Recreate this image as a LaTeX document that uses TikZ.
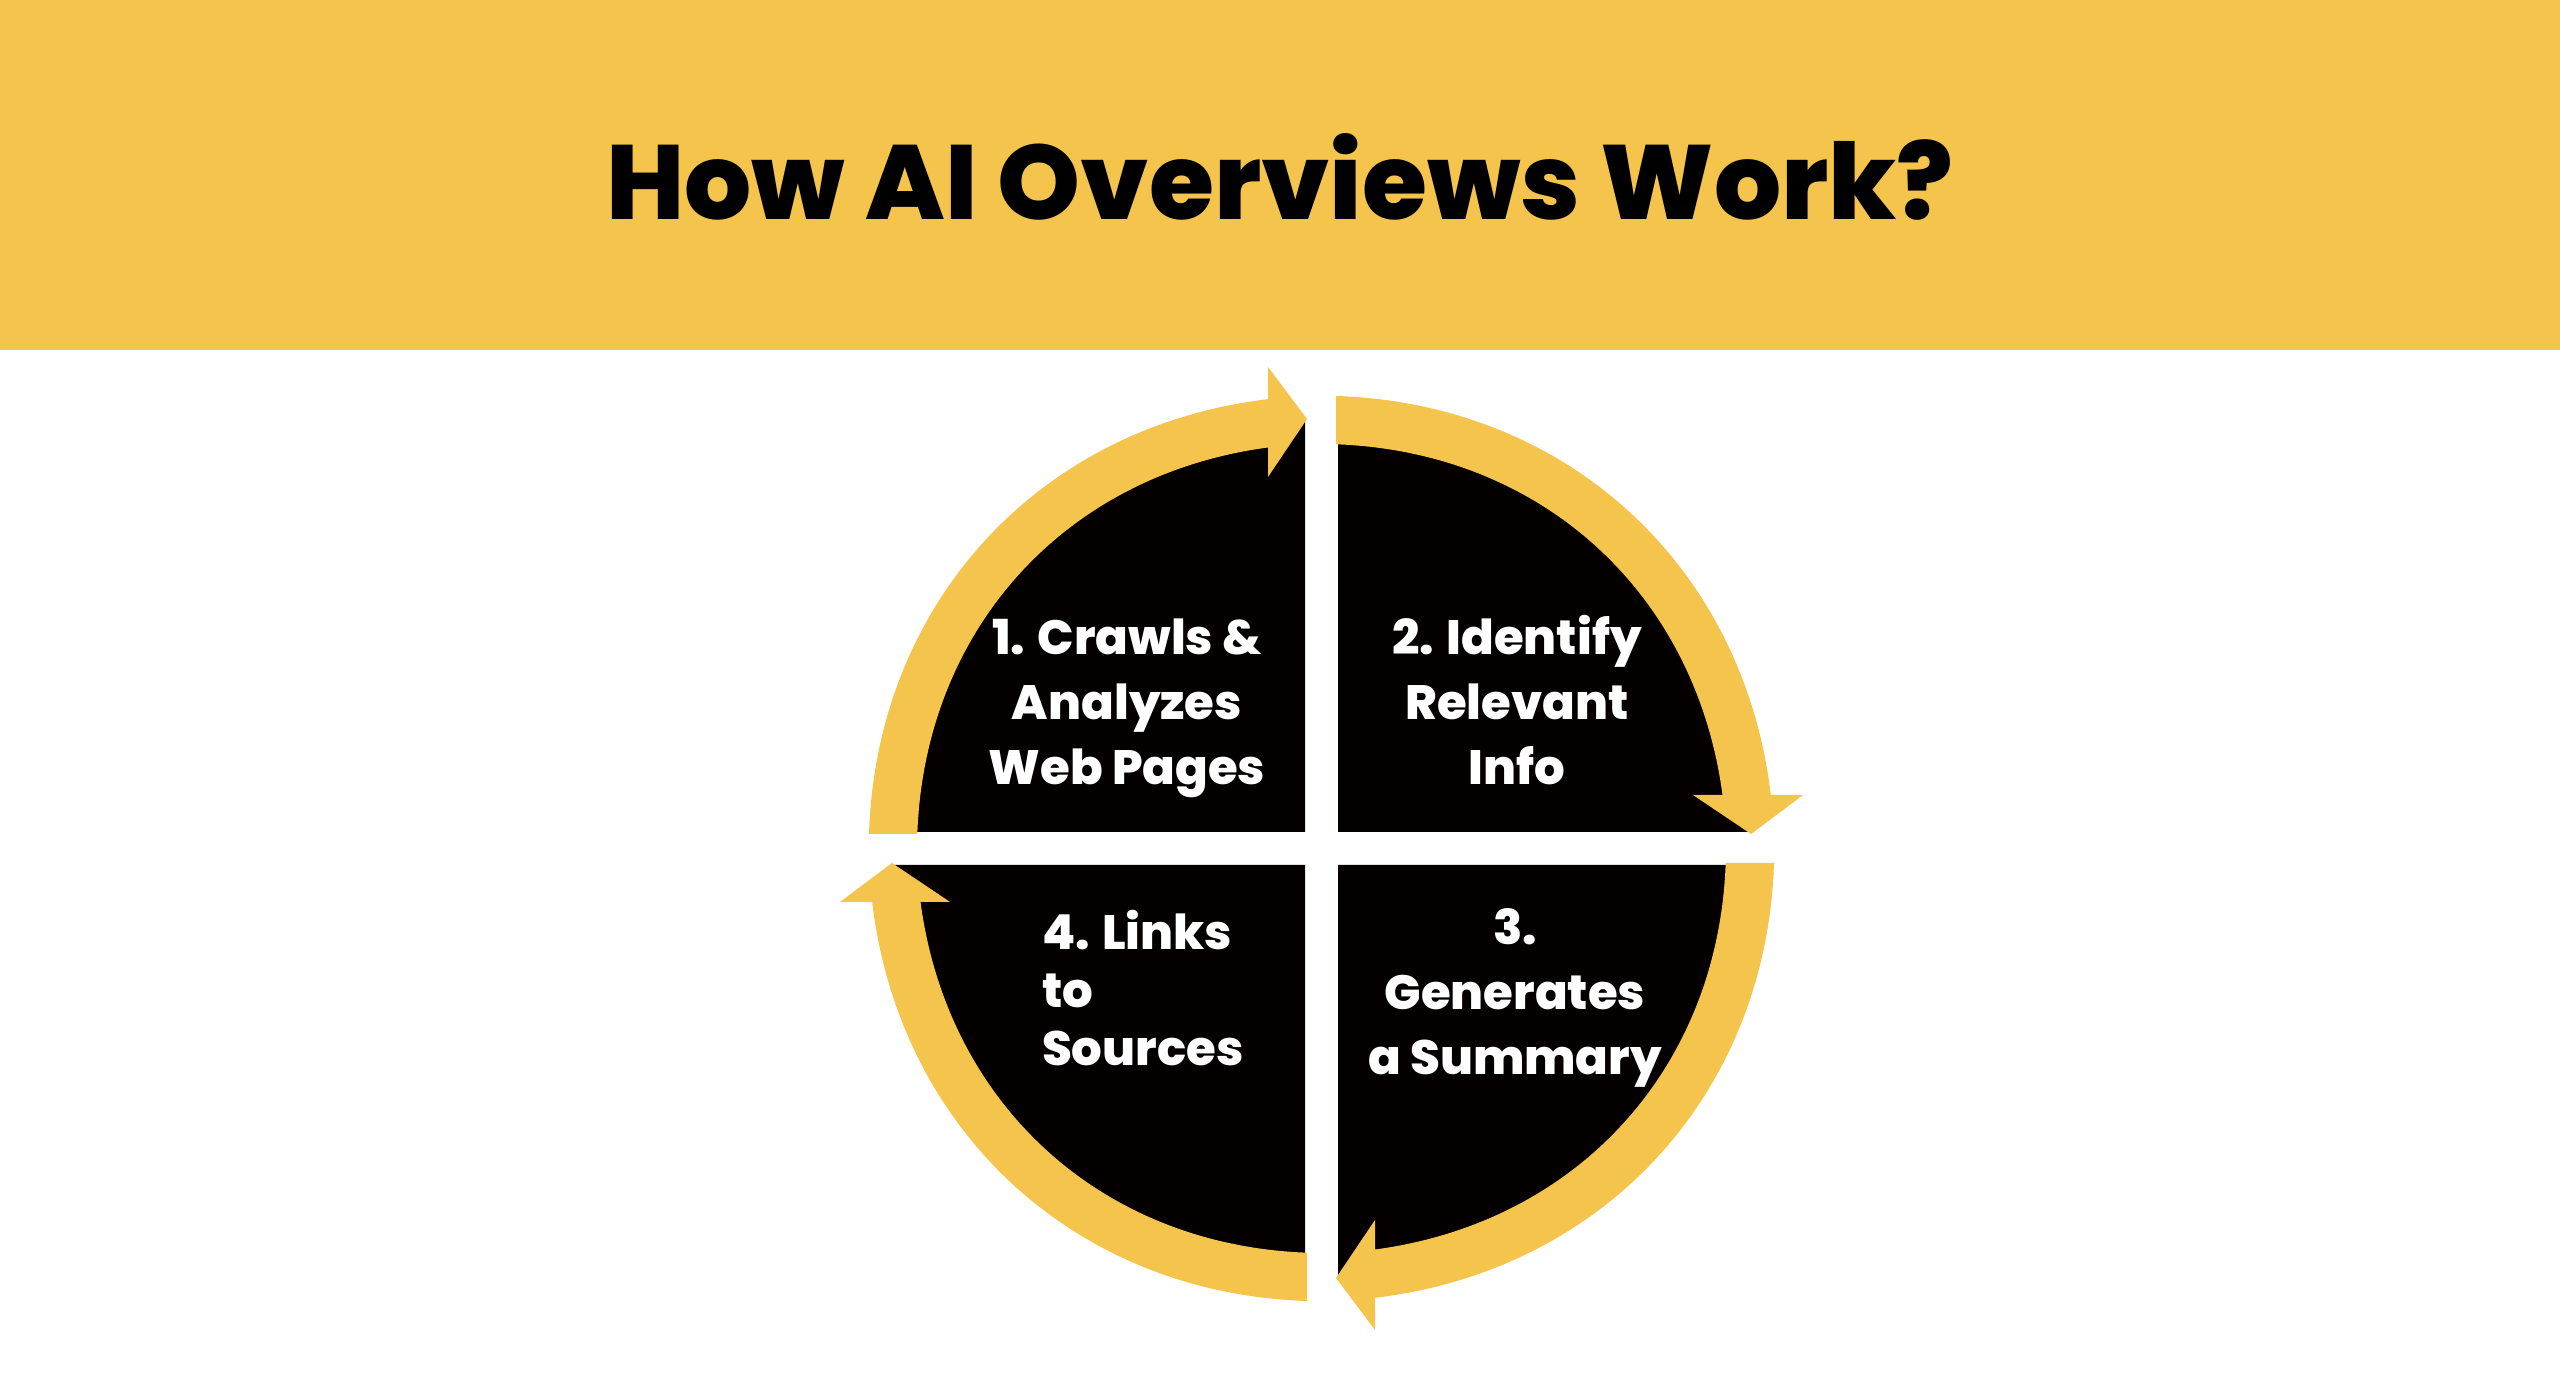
\documentclass[tikz,border=0pt]{standalone}
\usepackage{fontspec}
\newfontfamily\heavy{Poppins ExtraBold}
\definecolor{band}{HTML}{F4C44C}
\definecolor{ink}{HTML}{040000}
\tikzset{
  steplabel/.style={text=white,inner sep=0pt,outer sep=0pt,align=center,font=\heavy\fontsize{13.7}{18.5}\selectfont},
  linkslabel/.style={text=white,inner sep=0pt,outer sep=0pt,align=left,font=\heavy\fontsize{13.7}{16.5}\selectfont},
  titlelabel/.style={text=black,inner sep=0pt,outer sep=0pt,font=\heavy\fontsize{30}{33}\selectfont}
}
\begin{document}
\begin{tikzpicture}[x=0.01cm,y=0.01cm]
\useasboundingbox (0,0) rectangle (2560,1397);
\fill[white] (0,0) rectangle (2560,1397);
\fill[band] (0,1047) rectangle (2560,1397);
\node[titlelabel,anchor=base] (title) at (1280,1177) {How AI Overviews Work?};
\begin{scope}[shift={(1321.5,548.5)}]
\foreach \r in {0,-90,-180,-270}{
  \begin{scope}[rotate=\r]
    \fill[ink] (-16.5,16.5) -- (-428,16.5) .. controls (-421,232) and (-270,398) .. (-53.5,425) -- (-16.5,428) -- cycle;
    \fill[band] (-452.5,14.5) .. controls (-445.1,245.4) and (-282.9,422) .. (-53.5,449.3)
      -- (-53.5,481.5) -- (-14.5,429.5) -- (-53.5,371.5) -- (-53.5,401)
      .. controls (-256.7,373.9) and (-396.8,219.3) .. (-404.2,14.5) -- cycle;
  \end{scope}
}
\end{scope}
\node[steplabel] (s1) at (1127,1397-708) {1. Crawls \&\\Analyzes\\Web Pages};
\node[steplabel] (s2) at (1517,1397-700) {2. Identify\\Relevant\\Info};
\node[steplabel] (s3) at (1515,1397-998) {3.\\Generates\\a Summary};
\node[linkslabel,anchor=west] (s4) at (1042,1397-988) {4. Links\\to\\Sources};
\end{tikzpicture}
\end{document}
